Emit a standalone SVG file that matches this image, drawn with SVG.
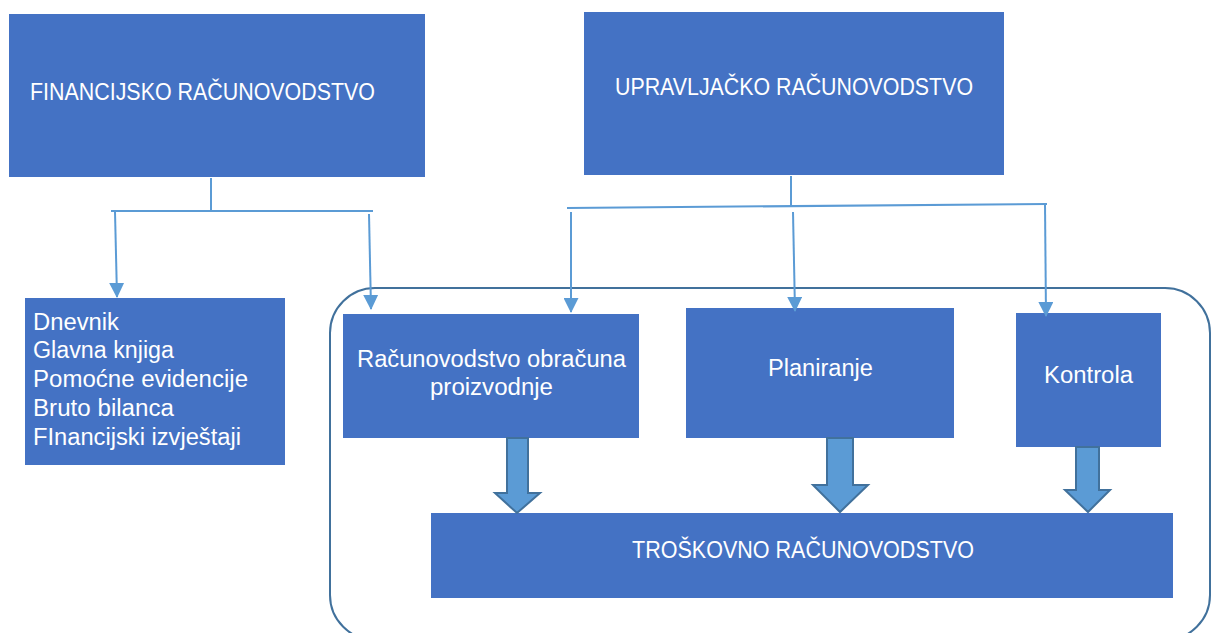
<svg xmlns="http://www.w3.org/2000/svg" width="1211" height="633" viewBox="0 0 1211 633">
<defs>
<style>
.box{fill:#4472c4;}
.t{fill:#ffffff;font-family:"Liberation Sans",Arial,sans-serif;font-size:23px;}
.cap{font-size:23px;}
.c{stroke:#5b9bd5;stroke-width:2;fill:none;}
.fat{fill:#5b9bd5;stroke:#41719c;stroke-width:2;}
</style>
<marker id="ah2" viewBox="0 0 16 16" refX="15" refY="8" markerWidth="15" markerHeight="15" markerUnits="userSpaceOnUse" orient="auto">
<path d="M0,0 L16,8 L0,16 Z" fill="#5b9bd5"/>
</marker>
</defs>
<rect width="1211" height="633" fill="#ffffff"/>
<rect id="container" x="330" y="288" width="880" height="352" rx="45" ry="45" fill="none" stroke="#41719c" stroke-width="2"/>
<g id="financijsko"><rect class="box" x="9" y="14" width="416" height="163"/><text class="t cap" x="30" y="100" textLength="345" lengthAdjust="spacingAndGlyphs">FINANCIJSKO RAČUNOVODSTVO</text></g>
<g id="upravljacko"><rect class="box" x="584" y="12" width="420" height="163"/><text class="t cap" x="615" y="95" textLength="358" lengthAdjust="spacingAndGlyphs">UPRAVLJAČKO RAČUNOVODSTVO</text></g>
<g id="dnevnik"><rect class="box" x="25" y="298" width="260" height="167"/>
<text class="t" x="33" y="330" textLength="86" lengthAdjust="spacingAndGlyphs">Dnevnik</text>
<text class="t" x="33" y="358" textLength="141" lengthAdjust="spacingAndGlyphs">Glavna knjiga</text>
<text class="t" x="33" y="387" textLength="215" lengthAdjust="spacingAndGlyphs">Pomoćne evidencije</text>
<text class="t" x="33" y="416" textLength="141" lengthAdjust="spacingAndGlyphs">Bruto bilanca</text>
<text class="t" x="33" y="445" textLength="208" lengthAdjust="spacingAndGlyphs">FInancijski izvještaji</text></g>
<g id="obracun"><rect class="box" x="343" y="314" width="296" height="124"/>
<text class="t" x="357" y="367" textLength="269" lengthAdjust="spacingAndGlyphs">Računovodstvo obračuna</text>
<text class="t" x="430" y="395" textLength="123" lengthAdjust="spacingAndGlyphs">proizvodnje</text></g>
<g id="planiranje"><rect class="box" x="686" y="308" width="268" height="130"/><text class="t" x="768" y="376" textLength="105" lengthAdjust="spacingAndGlyphs">Planiranje</text></g>
<g id="kontrola"><rect class="box" x="1016" y="313" width="145" height="134"/><text class="t" x="1044" y="383" textLength="89" lengthAdjust="spacingAndGlyphs">Kontrola</text></g>
<g id="troskovno"><rect class="box" x="431" y="513" width="742" height="85"/><text class="t cap" x="632" y="558" textLength="342" lengthAdjust="spacingAndGlyphs">TROŠKOVNO RAČUNOVODSTVO</text></g>
<g id="connectors">
<line class="c" x1="211" y1="178" x2="211" y2="211"/>
<line class="c" x1="111" y1="211" x2="373" y2="211"/>
<line class="c" x1="115" y1="212" x2="117" y2="297" marker-end="url(#ah2)"/>
<line class="c" x1="369" y1="214" x2="371" y2="309" marker-end="url(#ah2)"/>
<line class="c" x1="791" y1="176" x2="791" y2="205"/>
<line class="c" x1="567" y1="208" x2="1047" y2="204"/>
<line class="c" x1="571" y1="212" x2="571" y2="312" marker-end="url(#ah2)"/>
<line class="c" x1="793" y1="212" x2="795" y2="311" marker-end="url(#ah2)"/>
<line class="c" x1="1045" y1="204" x2="1046" y2="316" marker-end="url(#ah2)"/>
<path class="fat" d="M507,438 L528,438 L528,493 L540,493 L517,513 L495,493 L507,493 Z"/>
<path class="fat" d="M827,438 L853,438 L853,485 L868,485 L840,512 L813,485 L827,485 Z"/>
<path class="fat" d="M1076,447 L1099,447 L1099,490 L1110,490 L1088,512 L1065,490 L1076,490 Z"/>
</g>
</svg>
